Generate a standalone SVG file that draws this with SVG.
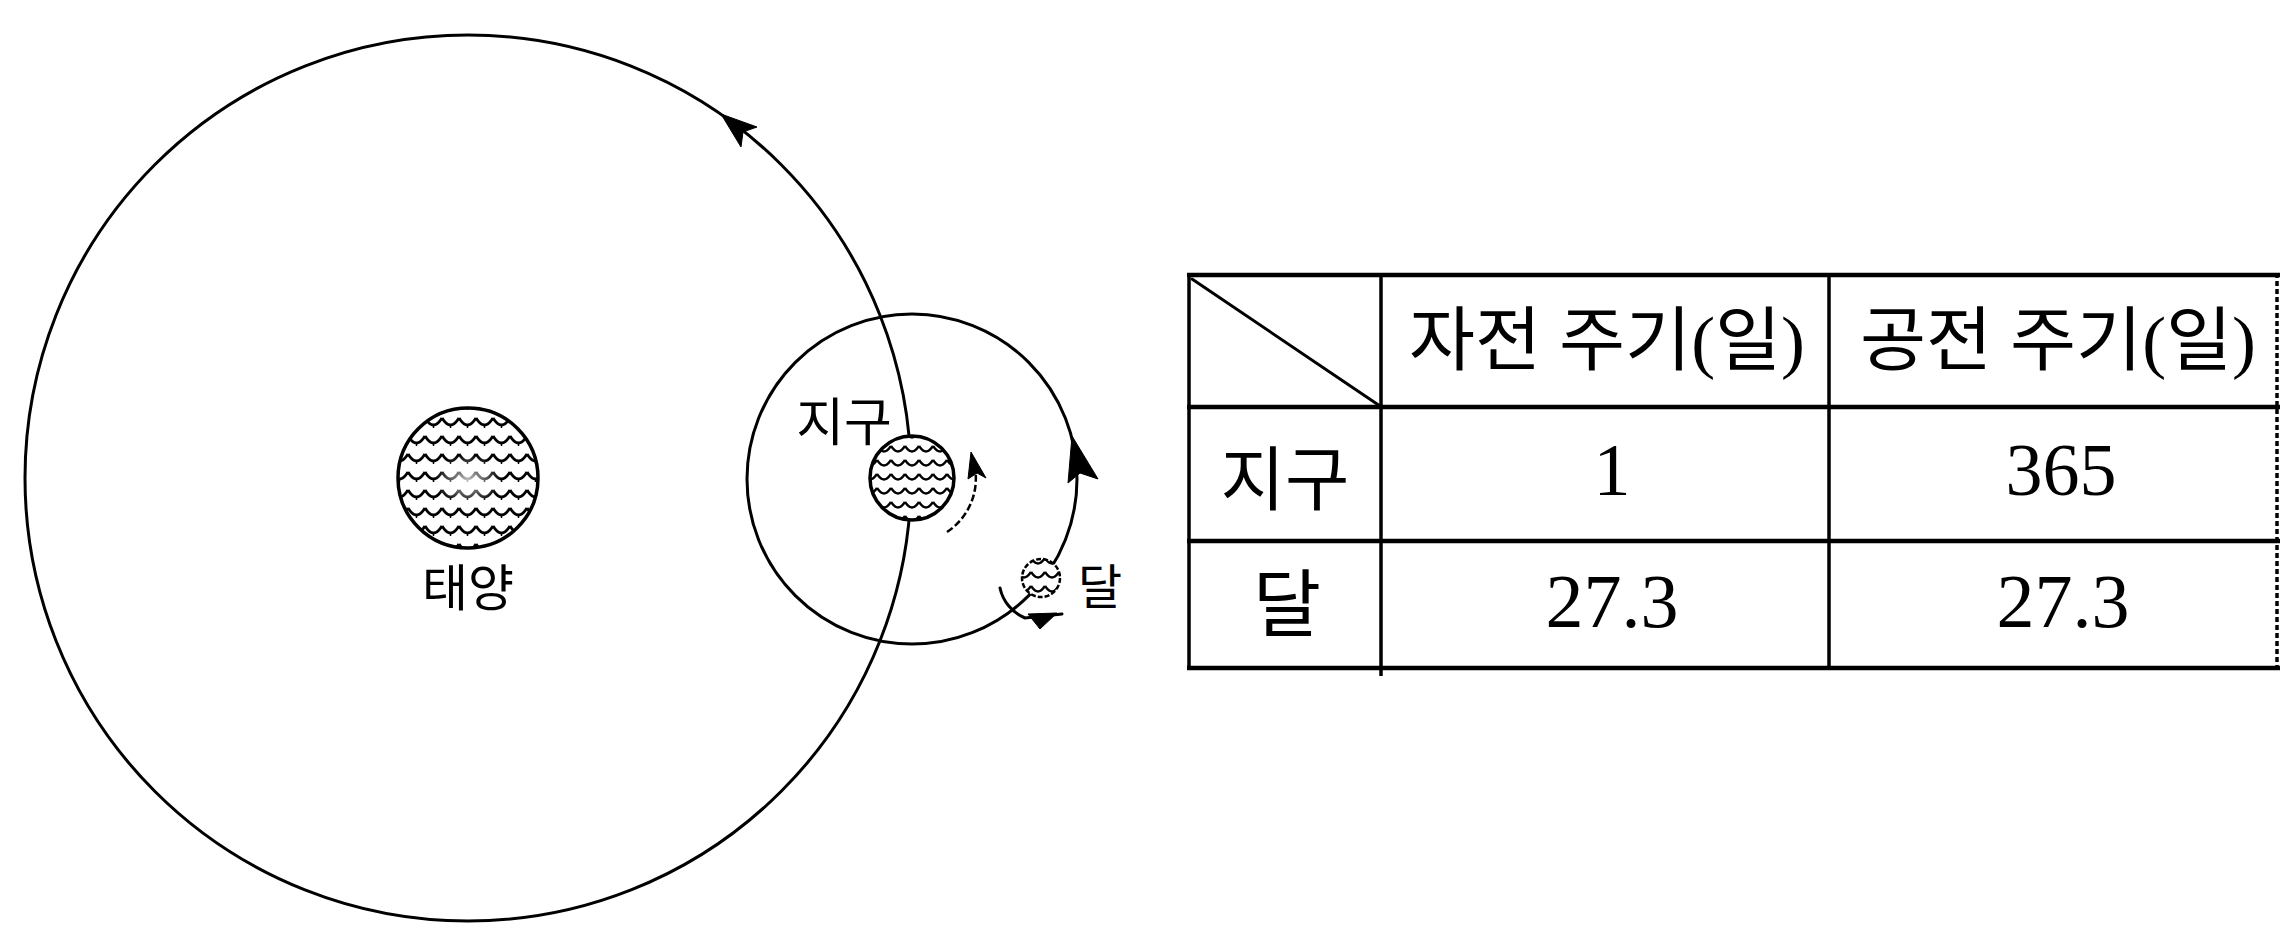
<svg xmlns="http://www.w3.org/2000/svg" width="2280" height="928" viewBox="0 0 2280 928">
  <style>
    .line { fill: none; stroke: #000; stroke-width: 3; stroke-linecap: round; }
    .thin { fill: none; stroke: #000; stroke-width: 2.5; stroke-dasharray: 7 3; }
    .head { fill: #000; stroke: #000; stroke-width: 1; stroke-linejoin: round; }
    .lbl { font-family: "Liberation Sans", "Noto Sans CJK KR", sans-serif; fill: #000; text-anchor: middle; }
    .cell { font-family: "Liberation Serif", "Noto Sans CJK KR", serif; fill: #000; text-anchor: middle; }
    .rule { stroke: #000; stroke-width: 4.5; }
    .vrule { stroke: #000; stroke-width: 3.5; }
  </style>
  <defs>
    <!-- fish-scale texture used for the sun, earth and moon -->
    <pattern id="scales" width="17" height="18" patternUnits="userSpaceOnUse" x="459" y="470">
      <rect width="17" height="18" fill="#fff"/>
      <path d="M0,2 Q8.5,16 17,2" fill="none" stroke="#000" stroke-width="2.8"/>
      <path d="M8.5,9 L8.5,12" stroke="#000" stroke-width="1.5"/>
    </pattern>
    <pattern id="scalesSmall" width="14" height="14" patternUnits="userSpaceOnUse" x="905" y="472">
      <rect width="14" height="14" fill="#fff"/>
      <path d="M0,2 Q7,13 14,2" fill="none" stroke="#000" stroke-width="2.4"/>
    </pattern>
    <radialGradient id="glow" cx="0.5" cy="0.5" r="0.5">
      <stop offset="0" stop-color="#fff" stop-opacity="0.75"/>
      <stop offset="1" stop-color="#fff" stop-opacity="0"/>
    </radialGradient>
  </defs>

  <rect width="2280" height="928" fill="#fff"/>

  <!-- orbits, rotation arcs and their arrowheads -->
  <g id="connectors">
    <circle class="line" cx="468" cy="478" r="443"/>
    <circle class="line" cx="912" cy="479" r="165"/>
    <!-- earth's revolution arrow (counter-clockwise) -->
    <path class="head" d="M721,114 L757,127 L743,132 L741,147 Z"/>
    <!-- moon's revolution arrow -->
    <path class="head" d="M1072,436 L1098,479 L1080,473 L1068,483 Z"/>
    <!-- earth's rotation -->
    <path class="thin" d="M947,532 A64,64 0 0 0 975,468"/>
    <path class="head" d="M971,452 L986,478 L977,473 L968,479 Z"/>
    <!-- moon's rotation -->
    <path class="line" stroke-width="2.5" d="M1000,588 A42,42 0 0 0 1025,618 L1062,614"/>
    <path class="head" d="M1028,614 L1057,613 L1040,629 Z"/>
  </g>

  <g id="sun">
    <ellipse cx="468" cy="478" rx="70" ry="70" fill="url(#scales)" stroke="#000" stroke-width="3.5"/>
    <ellipse cx="468" cy="480" rx="34" ry="26" fill="url(#glow)"/>
    <text class="lbl" x="468" y="606" font-size="50">태양</text>
  </g>

  <g id="earth">
    <circle cx="912" cy="478" r="42" fill="url(#scalesSmall)" stroke="#000" stroke-width="3.5"/>
    <text class="lbl" x="844" y="441" font-size="52">지구</text>
  </g>

  <g id="moon">
    <circle cx="1041" cy="578" r="19" fill="url(#scalesSmall)" stroke="#000" stroke-width="2.5" stroke-dasharray="5 2"/>
    <text class="lbl" x="1100" y="604" font-size="48">달</text>
  </g>

  <g id="table">
    <line class="rule" x1="1187" y1="275" x2="2280" y2="275" stroke-width="5.5"/>
    <line class="rule" x1="1187" y1="407" x2="2280" y2="407"/>
    <line class="rule" x1="1187" y1="541" x2="2280" y2="541"/>
    <line class="rule" x1="1187" y1="668" x2="2280" y2="668" stroke-width="5.5"/>
    <line class="vrule" x1="1189" y1="273" x2="1189" y2="670"/>
    <line class="vrule" x1="1381" y1="273" x2="1381" y2="676"/>
    <line class="vrule" x1="1829" y1="273" x2="1829" y2="670" stroke-width="3"/>
    <line class="vrule" x1="2277" y1="273" x2="2277" y2="670" stroke-width="3" stroke-dasharray="5 3"/>
    <line class="line" x1="1192" y1="279" x2="1380" y2="406"/>

    <text class="cell" x="1607" y="365" font-size="70" textLength="396" lengthAdjust="spacingAndGlyphs">자전 주기(일)</text>
    <text class="cell" x="2058" y="365" font-size="70" textLength="396" lengthAdjust="spacingAndGlyphs">공전 주기(일)</text>

    <text class="cell" x="1285" y="505" font-size="70">지구</text>
    <text class="cell" x="1612" y="495" font-size="74">1</text>
    <text class="cell" x="2061" y="495" font-size="74">365</text>

    <text class="cell" x="1287" y="631" font-size="74">달</text>
    <text class="cell" x="1612" y="627" font-size="76">27.3</text>
    <text class="cell" x="2063" y="627" font-size="76">27.3</text>
  </g>
</svg>
